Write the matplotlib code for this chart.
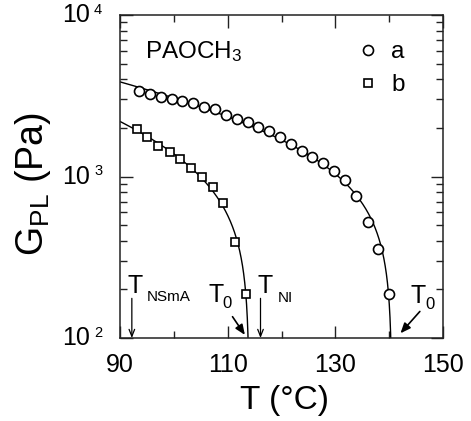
import numpy as np
import matplotlib
matplotlib.use("Agg")
import matplotlib.pyplot as plt

plt.rcParams['font.family'] = ['Liberation Sans', 'DejaVu Sans']
plt.rcParams['mathtext.fontset'] = 'custom'
plt.rcParams['mathtext.rm'] = 'Liberation Sans'
plt.rcParams['mathtext.it'] = 'Liberation Sans'

# ---- data ----
T_a = [93.5, 95.6, 97.6, 99.6, 101.6, 103.6, 105.6, 107.6, 109.6, 111.7,
       113.7, 115.7, 117.7, 119.7, 121.8, 123.8, 125.7, 127.8, 129.8, 131.8,
       133.9, 136.0, 138.0, 140.0]
G_a = [3383, 3245, 3120, 3033, 2946, 2838, 2703, 2605, 2414, 2281,
       2167, 2034, 1914, 1749, 1590, 1445, 1327, 1208, 1087, 951,
       757, 520, 355, 188]
T_b = [93.1, 95.1, 97.1, 99.2, 101.2, 103.2, 105.2, 107.3, 109.2, 111.3, 113.4]
G_b = [1968, 1762, 1552, 1419, 1279, 1136, 998, 855, 683, 392, 188]
T0_a = 140.5
T0_b = 114.0
T_NSmA = 92.2
T_NI = 116.1

xticks_major = [90, 110, 130, 150]
xticks_minor = [100, 120, 140]


def fit_curve(T, G, T0, Tmin=90.0):
    T = np.asarray(T, float)
    G = np.asarray(G, float)
    x = T0 - T
    A = np.column_stack([np.ones_like(x), np.log(x), x])
    c, *_ = np.linalg.lstsq(A, np.log(G), rcond=None)
    xs = np.geomspace(1e-4, T0 - Tmin, 600)
    return T0 - xs, np.exp(c[0] + c[1] * np.log(xs) + c[2] * xs)


fig = plt.figure(figsize=(4.71, 4.21), dpi=100)
ax = fig.add_axes([120 / 471, 1 - 338 / 421, 323 / 471, 323 / 421])

for T, G, T0 in [(T_a, G_a, T0_a), (T_b, G_b, T0_b)]:
    tc, gc = fit_curve(T, G, T0)
    ax.plot(tc, gc, color='black', lw=1.0, zorder=2)

ax.plot(T_a, G_a, ls='none', marker='o', ms=7.2, mfc='white', mec='black',
        mew=1.2, label='a', zorder=3)
ax.plot(T_b, G_b, ls='none', marker='s', ms=6.4, mfc='white', mec='black',
        mew=1.2, label='b', zorder=3)

ax.set_yscale('log')
ax.set_xlim(90, 150)
ax.set_ylim(100, 10000)

ax.set_xticks(xticks_major)
ax.set_xticks(xticks_minor, minor=True)
ax.set_xticklabels([str(v) for v in xticks_major], fontsize=18)
ax.yaxis.set_major_locator(matplotlib.ticker.LogLocator(base=10, numticks=5))
ax.yaxis.set_minor_locator(matplotlib.ticker.LogLocator(base=10, subs=np.arange(2, 10), numticks=20))
ax.yaxis.set_major_formatter(matplotlib.ticker.NullFormatter())
ax.yaxis.set_minor_formatter(matplotlib.ticker.NullFormatter())
ax.tick_params(which='both', direction='in', top=True, right=True, width=1.0, color='#222222')
ax.tick_params(which='major', length=9)
ax.tick_params(which='minor', length=5)
ax.tick_params(axis='x', which='major', pad=11)
for s in ax.spines.values():
    s.set_linewidth(1.1)
    s.set_color('#222222')

# y tick labels "10" with exponent
trans = matplotlib.transforms.blended_transform_factory(ax.transAxes, ax.transData)
for e in [2, 3, 4]:
    ax.text(-30 / 323, 10 ** e, '10', transform=trans, ha='right', va='center', fontsize=18)
    ax.text(-26 / 323, 10 ** (e - 0.012), str(e), transform=trans, ha='left', va='bottom', fontsize=10.5)

fig.text(33 / 471, 1 - 184 / 421, r'G$_{\mathrm{PL}}$ (Pa)', rotation=90, ha='center', va='center', fontsize=27)
fig.text(285 / 471, 1 - 400 / 421, 'T (°C)', ha='center', va='center', fontsize=24)

ax.text(94.6, 10 ** (4 - (58.3 - 15) / 161.5), r'PAOCH$_3$', ha='left', va='baseline', fontsize=17.5)

ax.legend(loc='upper right', frameon=False, fontsize=17.5, handlelength=0.7, handletextpad=0.6,
          labelspacing=0.45, borderaxespad=0, borderpad=0, bbox_to_anchor=(0.882, 0.918))

# annotations
ax.text(91.36, 189, 'T', ha='left', va='baseline', fontsize=18)
ax.text(94.96, 169.6, 'NSmA', ha='left', va='baseline', fontsize=11)
ax.text(115.6, 189, 'T', ha='left', va='baseline', fontsize=18)
ax.text(119.35, 168, 'NI', ha='left', va='baseline', fontsize=11)
ax.text(106.35, 168, 'T', ha='left', va='baseline', fontsize=18)
ax.text(109.1, 153, '0', ha='left', va='baseline', fontsize=12)
ax.text(143.9, 164, 'T', ha='left', va='baseline', fontsize=18)
ax.text(146.8, 151, '0', ha='left', va='baseline', fontsize=12)

thin = dict(arrowstyle='->,head_length=0.5,head_width=0.2', color='black', lw=0.9, shrinkA=0, shrinkB=0)
ax.annotate('', xy=(T_NSmA, 100), xytext=(T_NSmA, 176), arrowprops=thin)
ax.annotate('', xy=(T_NI, 100), xytext=(T_NI, 176), arrowprops=thin)
fat = dict(arrowstyle='-|>,head_length=0.6,head_width=0.25', color='black', lw=1.2, shrinkA=0, shrinkB=0)
ax.annotate('', xy=(113.2, 104.5), xytext=(110.9, 135.5), arrowprops=fat)
ax.annotate('', xy=(142.1, 107), xytext=(145.7, 146), arrowprops=fat)

fig.savefig('out.png', dpi=100)
